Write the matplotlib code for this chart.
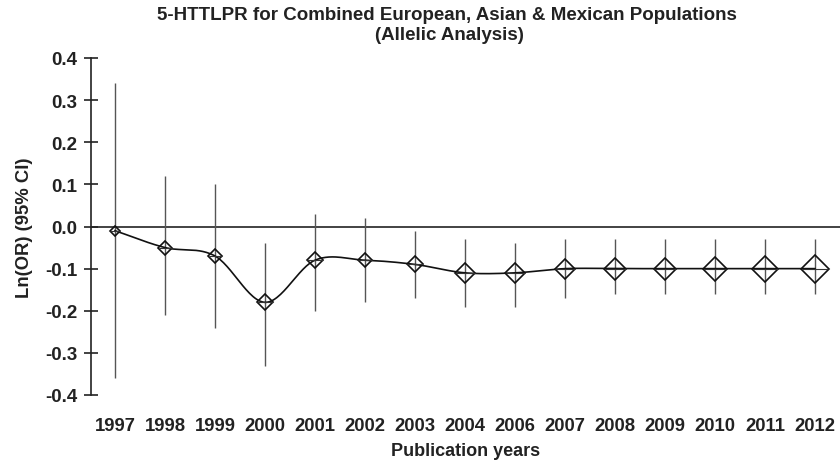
import numpy as np
import matplotlib
matplotlib.use("Agg")
import matplotlib.pyplot as plt

# Data.
years = ["1997", "1998", "1999", "2000", "2001", "2002", "2003", "2004",
         "2006", "2007", "2008", "2009", "2010", "2011", "2012"]
ln_or = [-0.01, -0.05, -0.07, -0.18, -0.08, -0.08, -0.09, -0.11,
         -0.11, -0.10, -0.10, -0.10, -0.10, -0.10, -0.10]
ci_upper = [0.34, 0.12, 0.10, -0.04, 0.03, 0.02, -0.01, -0.03,
            -0.04, -0.03, -0.03, -0.03, -0.03, -0.03, -0.03]
ci_lower = [-0.36, -0.21, -0.24, -0.33, -0.20, -0.18, -0.17, -0.19,
            -0.19, -0.17, -0.16, -0.16, -0.16, -0.16, -0.16]
marker_px = [10, 13, 13, 16, 16, 14, 16, 20, 19, 20, 21, 22, 23, 25, 27]
yticks = [-0.4, -0.3, -0.2, -0.1, 0.0, 0.1, 0.2, 0.3, 0.4]


# Smooth curve through the points (Catmull-Rom, like a spreadsheet "smoothed line").
def smooth(x, y, n=30):
    x = np.asarray(x, float)
    y = np.asarray(y, float)
    px = np.concatenate([[2 * x[0] - x[1]], x, [2 * x[-1] - x[-2]]])
    py = np.concatenate([[2 * y[0] - y[1]], y, [2 * y[-1] - y[-2]]])
    xs, ys = [], []
    t = np.linspace(0, 1, n)
    for i in range(1, len(px) - 2):
        for p, out in ((px, xs), (py, ys)):
            p0, p1, p2, p3 = p[i - 1], p[i], p[i + 1], p[i + 2]
            out.extend(0.5 * ((2 * p1) + (-p0 + p2) * t
                              + (2 * p0 - 5 * p1 + 4 * p2 - p3) * t ** 2
                              + (-p0 + 3 * p1 - 3 * p2 + p3) * t ** 3))
    return np.array(xs), np.array(ys)


plt.rcParams['font.family'] = ['Liberation Sans', 'DejaVu Sans']
plt.rcParams['font.weight'] = 'bold'

fig = plt.figure(figsize=(8.4, 4.64), dpi=100)
ax = fig.add_axes([91 / 840, 1 - 396 / 464, 1 - 91 / 840, (396 - 59) / 464])

x = np.arange(len(years))
ax.axhline(0, color='#222222', lw=1.2, zorder=1)

# Confidence interval bars.
ax.vlines(x, ci_lower, ci_upper, color='#555555', lw=1.0, zorder=2)

sx, sy = smooth(x, ln_or)
ax.plot(sx, sy, color='#111111', lw=1.2, zorder=3)

for xi, yi, s in zip(x, ln_or, marker_px):
    ax.plot(xi, yi, marker='D', ms=s * 0.72 / 1.414, mfc='none',
            mec='#111111', mew=1.2, zorder=4)
    ax.plot(xi, yi, marker='_', ms=s * 0.72, mec='#333333', mew=0.8, zorder=4)

ax.set_xlim(-0.48, 14.5)
ax.set_ylim(-0.4, 0.4)
ax.set_yticks(yticks)
ax.set_yticklabels(["%.1f" % v for v in yticks])
ax.set_xticks(x)
ax.set_xticklabels(years)

for side in ['top', 'right', 'bottom']:
    ax.spines[side].set_visible(False)
ax.spines['left'].set_color('#222222')
ax.spines['left'].set_linewidth(1.2)
ax.tick_params(axis='y', direction='inout', length=9.5, width=1.2, labelsize=13.5,
               colors='#222222', pad=5)
ax.tick_params(axis='x', length=0, labelsize=13.3, colors='#222222', pad=16)

ax.set_ylabel("Ln(OR) (95% CI)", fontsize=13.3, fontweight='bold', color='#222222')
ax.yaxis.set_label_coords(-0.077, 0.5)
ax.set_xlabel("Publication years", fontsize=13, fontweight='bold', color='#222222')
ax.xaxis.set_label_coords(0.5, -0.14)

fig.text(447 / 840, 1 - 16 / 464, "5-HTTLPR for Combined European, Asian & Mexican Populations",
         ha='center', va='center', fontsize=13.5, fontweight='bold', color='#222222')
fig.text(449 / 840, 1 - 35 / 464, "(Allelic Analysis)",
         ha='center', va='center', fontsize=13.5, fontweight='bold', color='#222222')

fig.savefig("out.png", dpi=100)
